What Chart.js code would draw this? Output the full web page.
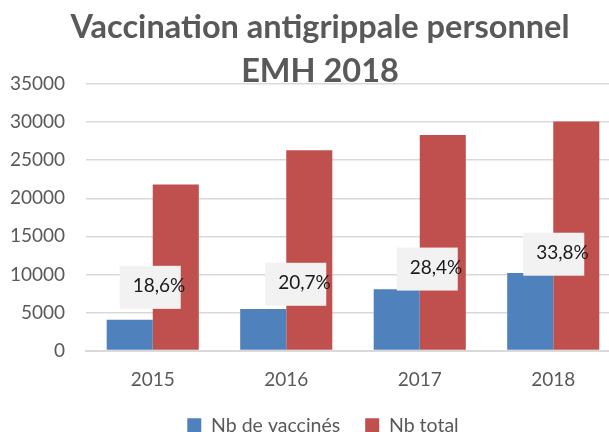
<!DOCTYPE html>
<html>
<head>
<meta charset="utf-8">
<script src="https://cdn.jsdelivr.net/npm/chart.js@4/dist/chart.umd.min.js"></script>
<style>
  html, body { margin: 0; padding: 0; background: #fff; }
  #wrap { width: 609px; height: 432px; overflow: hidden; position: relative; }
  canvas { display: block; }
</style>
</head>
<body>
<div id="wrap"><canvas id="chart" width="646" height="445"></canvas></div>
<script>
const years = ['2015', '2016', '2017', '2018'];
const vaccinated = [4050, 5450, 8040, 10180];
const total = [21800, 26300, 28300, 30100];
const rates = ['18,6%', '20,7%', '28,4%', '33,8%'];

const FONT = 'Lato, "Open Sans", "Liberation Sans", sans-serif';
const GREY = '#595959';

// percentage boxes, placed by hand like the Excel labels
const rateBoxes = {
    id: 'rateBoxes',
    afterLayout(chart) {
        // title and legend are centred on the whole (wider) chart
        chart.titleBlock.right += 20;
        chart.legend.right += 26;
    },
    afterDatasetsDraw(chart) {
        const ctx = chart.ctx;
        const xs = chart.scales.x, ys = chart.scales.y;
        const dx = [-2.5, 9.5, 7.5, 0.5];
        const at = [8300, 8700, 10700, 12650];
        ctx.save();
        ctx.font = '19px ' + FONT;
        ctx.textBaseline = 'middle';
        ctx.textAlign = 'left';
        rates.forEach((r, i) => {
            const cx = xs.getPixelForValue(i) + dx[i];
            const cy = ys.getPixelForValue(at[i]);
            ctx.fillStyle = '#f2f2f2';
            ctx.fillRect(cx - 30.5, cy - 21.5, 61, 43);
            ctx.fillStyle = '#1a1a1a';
            ctx.fillText(r, cx - 17.5, cy - 1);
        });
        ctx.restore();
    }
};

new Chart(document.getElementById('chart'), {
    type: 'bar',
    data: {
        labels: years,
        datasets: [
            { label: 'Nb de vaccinés', data: vaccinated, backgroundColor: '#4f81bd' },
            { label: 'Nb total', data: total, backgroundColor: '#c0504d' }
        ]
    },
    options: {
        responsive: false,
        animation: false,
        categoryPercentage: 0.69,
        barPercentage: 1.0,
        layout: { padding: { left: 0, right: 26, top: 0, bottom: 0 } },
        plugins: {
            title: {
                display: true,
                text: ['Vaccination antigrippale personnel', 'EMH 2018'],
                color: GREY,
                font: { family: FONT, size: 32.5, weight: 'bold', lineHeight: 1.34 },
                padding: { top: 6, bottom: -9 }
            },
            legend: {
                position: 'bottom',
                labels: {
                    color: GREY,
                    font: { family: FONT, size: 19.5 },
                    boxWidth: 14,
                    boxHeight: 14,
                    padding: 25
                }
            },
            tooltip: { enabled: false }
        },
        scales: {
            x: {
                grid: { display: false, drawTicks: false },
                border: { display: true, color: '#d9d9d9', width: 2 },
                ticks: { color: GREY, font: { family: FONT, size: 19 }, padding: 18 },
                afterFit(scale) { scale.height = 40; }
            },
            y: {
                min: 0,
                max: 35000,
                ticks: {
                    stepSize: 5000,
                    color: GREY,
                    font: { family: FONT, size: 19 },
                    padding: 21,
                    callback: v => String(v)
                },
                grid: { color: '#d9d9d9', lineWidth: 1.5, drawTicks: false },
                border: { display: false },
                afterFit(scale) { scale.width = 86; }
            }
        }
    },
    plugins: [rateBoxes]
});
</script>
</body>
</html>
